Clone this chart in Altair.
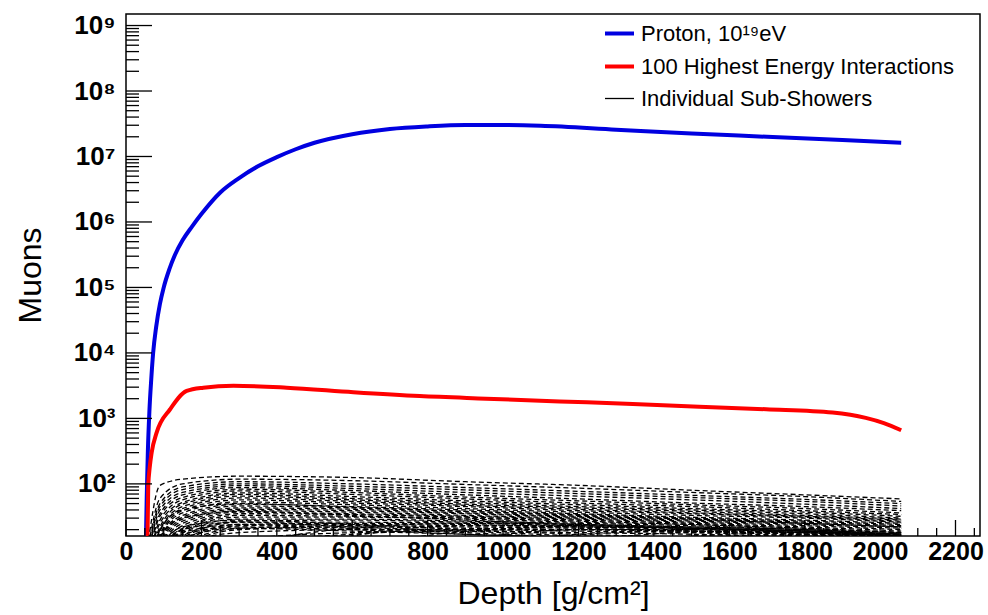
import altair as alt
import pandas as pd

# ---------------- data ----------------
SERIES = ["Proton, 10¹⁹eV", "100 Highest Energy Interactions", "Individual Sub-Showers"]

PROTON_DEPTH = [53, 55, 58, 62, 67, 72, 80, 90, 100, 115, 130, 150, 175, 200, 250, 300,
                350, 400, 450, 500, 600, 700, 800, 900, 1000, 1100, 1300, 1500, 1700, 1900, 2056]
PROTON_MUONS = [16, 63, 316, 1260, 3980, 1.0e4, 2.5e4, 5.6e4, 1.0e5, 1.9e5, 3.16e5, 5.25e5,
                8.5e5, 1.32e6, 2.82e6, 4.68e6, 7.08e6, 9.77e6, 1.29e7, 1.62e7, 2.19e7, 2.63e7,
                2.88e7, 3.02e7, 3.02e7, 2.95e7, 2.57e7, 2.24e7, 2.0e7, 1.78e7, 1.62e7]

TOP100_DEPTH = [57, 59, 63, 68, 81, 117, 161, 205, 285, 426, 603, 779, 955, 1150,
                1344, 1520, 1698, 1874, 1962, 2010, 2056]
TOP100_MUONS = [16, 93, 180, 300, 600, 1380, 2630, 2950, 3160, 2950, 2510, 2190, 2000,
                1820, 1660, 1510, 1380, 1230, 1020, 850, 660]

SUB_DEPTH = [60, 90, 150, 300, 600, 900, 1200, 1500, 1800, 2056]
SUB_SHOWERS = [
    [14, 95, 118, 131, 125, 108, 95, 80, 68, 59],
    [12, 60, 100, 118, 112, 98, 86, 74, 64, 54],
    [11, 50, 90, 108, 100, 88, 77, 67, 58, 50],
    [10, 45, 82, 100, 92, 81, 71, 62, 54, 46],
    [9, 40, 74, 94, 85, 74, 65, 57, 49, 42],
    [8, 35, 68, 88, 79, 68, 59, 51, 45, 39],
    [8, 32, 62, 83, 74, 63, 55, 48, 42, 36],
    [7, 28, 57, 78, 69, 59, 51, 45, 39, 34],
    [7, 25, 52, 73, 64, 55, 48, 42, 37, 32],
    [6, 22, 49, 69, 60, 52, 45, 40, 35, 30],
    [6, 20, 45, 65, 57, 49, 43, 38, 33, 29],
    [5, 19, 42, 61, 54, 47, 41, 36, 32, 28],
    [5, 17, 39, 57, 51, 45, 39, 35, 31, 27],
    [5, 16, 36, 53, 48, 42, 37, 33, 30, 26],
    [4, 15, 33, 49, 45, 40, 35, 31, 28, 25],
    [4, 13, 31, 46, 43, 38, 34, 30, 27, 24],
    [4, 12, 29, 43, 41, 36, 32, 29, 26, 23],
    [3, 11, 27, 41, 39, 35, 31, 28, 25, 22],
    [3, 10, 25, 39, 37, 33, 30, 27, 24, 21],
    [3, 9, 23, 37, 35, 32, 29, 26, 23, 20],
    [3, 9, 21, 35, 34, 31, 28, 25, 22, 19],
    [2, 8, 20, 33, 32, 30, 27, 24, 21, 18],
    [2, 7, 19, 31, 31, 29, 26, 24, 21, 18],
    [2, 7, 18, 29, 29, 27, 25, 23, 20, 17],
    [2, 6, 16, 27, 28, 26, 24, 22, 20, 17],
    [2, 6, 15, 26, 26, 25, 23, 21, 19, 16],
    [2, 5, 14, 24, 25, 24, 22, 21, 19, 16],
    [2, 5, 13, 23, 24, 23, 22, 20, 18, 15],
    [1, 4, 12, 21, 23, 22, 21, 19, 18, 15],
    [1, 4, 11, 20, 22, 21, 20, 19, 17, 14],
    [1, 2, 4, 10, 21, 25, 24, 22, 20, 18],
    [1, 1, 3, 6, 16, 23, 23, 21, 19, 17],
    [1, 1, 2, 4, 10, 19, 22, 21, 19, 17],
    [1, 1, 1, 3, 6, 14, 20, 20, 19, 17],
    [1, 1, 1, 2, 4, 9, 17, 19, 18, 16],
    [1, 1, 1, 1, 3, 6, 13, 18, 18, 16],
    [1, 1, 1, 1, 2, 4, 9, 16, 18, 17],
    [1, 1, 1, 1, 1, 3, 6, 13, 17, 16],
    [1, 1, 1, 1, 1, 2, 4, 9, 16, 17],
    [1, 1, 1, 1, 1, 1, 3, 6, 13, 18],
    [2, 10, 22, 28, 24, 20, 17, 15, 13, 11],
    [2, 9, 20, 26, 22, 19, 16, 14, 12, 10],
    [2, 8, 18, 24, 21, 18, 15, 13, 11, 9],
    [1, 7, 17, 22, 20, 17, 15, 13, 11, 9],
    [1, 6, 15, 21, 19, 17, 15, 14, 12, 10],
    [1, 3, 8, 14, 18, 19, 18, 17, 15, 13],
    [1, 2, 6, 12, 17, 20, 20, 19, 17, 15],
    [1, 5, 12, 18, 20, 20, 19, 18, 16, 14],
    [3, 15, 30, 38, 33, 28, 24, 21, 18, 16],
    [4, 20, 40, 50, 44, 38, 33, 29, 25, 22],
]

X_MAJOR = [0, 200, 400, 600, 800, 1000, 1200, 1400, 1600, 1800, 2000, 2200]
X_MINOR = [v for v in range(50, 2251, 50) if v % 200]
Y_MAJOR = [1e2, 1e3, 1e4, 1e5, 1e6, 1e7, 1e8, 1e9]
Y_MINOR = [m * 10 ** k for k in range(1, 9) for m in range(2, 10) if m * 10 ** k >= 16]

X_DOMAIN = [0, 2265]
Y_DOMAIN = [16, 1.5e9]

# ---------------- tables ----------------
curves = pd.DataFrame({
    "depth": PROTON_DEPTH + TOP100_DEPTH,
    "muons": PROTON_MUONS + TOP100_MUONS,
    "series": [SERIES[0]] * len(PROTON_DEPTH) + [SERIES[1]] * len(TOP100_DEPTH),
})
rows = []
for i, vals in enumerate(SUB_SHOWERS):
    for d, v in zip(SUB_DEPTH, vals):
        rows.append({"depth": d, "muons": v, "series": SERIES[2], "shower": i})
subs = pd.DataFrame(rows)

FONT = "Liberation Sans"
x_scale = alt.Scale(domain=X_DOMAIN, nice=False, zero=False)
y_scale = alt.Scale(type="log", domain=Y_DOMAIN, nice=False)

x_axis = alt.Axis(values=X_MAJOR, ticks=False, domain=False, grid=False, format="d",
                  labelFont=FONT, labelFontSize=25, labelFontWeight="bold", labelColor="black",
                  labelPadding=3, labelFlush=False, labelOverlap=False,
                  title="Depth [g/cm²]", titleFont=FONT, titleFontSize=32,
                  titleFontWeight="normal", titleColor="black", titlePadding=14)
y_axis = alt.Axis(values=Y_MAJOR, ticks=False, domain=False, grid=False,
                  labelExpr="'10' + substring('⁰¹²³⁴⁵⁶⁷⁸⁹', round(log(datum.value)/LN10), round(log(datum.value)/LN10)+1)",
                  labelFont=FONT, labelFontSize=26, labelFontWeight="bold", labelColor="black",
                  labelPadding=11, labelOverlap=False,
                  title="Muons", titleFont=FONT, titleFontSize=32,
                  titleFontWeight="normal", titleColor="black", titlePadding=26)

legend = alt.Legend(orient="none", legendX=477, legendY=3, title=None,
                    labelFont=FONT, labelFontSize=22, labelColor="black", labelLimit=500,
                    symbolType="stroke", symbolSize=841, labelOffset=5,
                    rowPadding=5, padding=0)

color = alt.Color("series:N", scale=alt.Scale(domain=SERIES, range=["#0000e0", "#ff0000", "#000000"]),
                  legend=legend, title=None)
width_enc = alt.StrokeWidth("series:N",
                            scale=alt.Scale(type="ordinal", domain=SERIES, range=[4, 4, 1.3]),
                            legend=legend, title=None)

X = alt.X("depth:Q", scale=x_scale, axis=x_axis)
Y = alt.Y("muons:Q", scale=y_scale, axis=y_axis)

curve_layer = alt.Chart(curves).mark_line(clip=True, interpolate="monotone").encode(
    x=X, y=Y, color=color, strokeWidth=width_enc)

sub_layer = alt.Chart(subs).mark_line(clip=True, interpolate="monotone", strokeDash=[5, 3]).encode(
    x=X, y=Y, color=color, strokeWidth=width_enc, detail="shower:N")

ymaj = alt.Chart(pd.DataFrame({"muons": Y_MAJOR})).mark_rule(color="black", strokeWidth=1.3).encode(
    y=Y, x=alt.value(0), x2=alt.value(26))
ymin = alt.Chart(pd.DataFrame({"muons": Y_MINOR})).mark_rule(color="black", strokeWidth=1.3, clip=True).encode(
    y=Y, x=alt.value(0), x2=alt.value(13))
xmaj = alt.Chart(pd.DataFrame({"depth": X_MAJOR})).mark_rule(color="black", strokeWidth=1.3).encode(
    x=X, y=alt.value(522), y2=alt.value(506))
xmin = alt.Chart(pd.DataFrame({"depth": X_MINOR})).mark_rule(color="black", strokeWidth=1.3).encode(
    x=X, y=alt.value(522), y2=alt.value(514))

chart = alt.layer(curve_layer, sub_layer, ymaj, ymin, xmaj, xmin).properties(
    width=854, height=522,
    padding={"left": 126, "top": 14, "right": 8, "bottom": 79},
    autosize=alt.AutoSizeParams(type="none"),
    background="white",
).configure_view(stroke="black", strokeWidth=1.5)

chart.save("out.html", embed_options={"renderer": "svg", "actions": False})
